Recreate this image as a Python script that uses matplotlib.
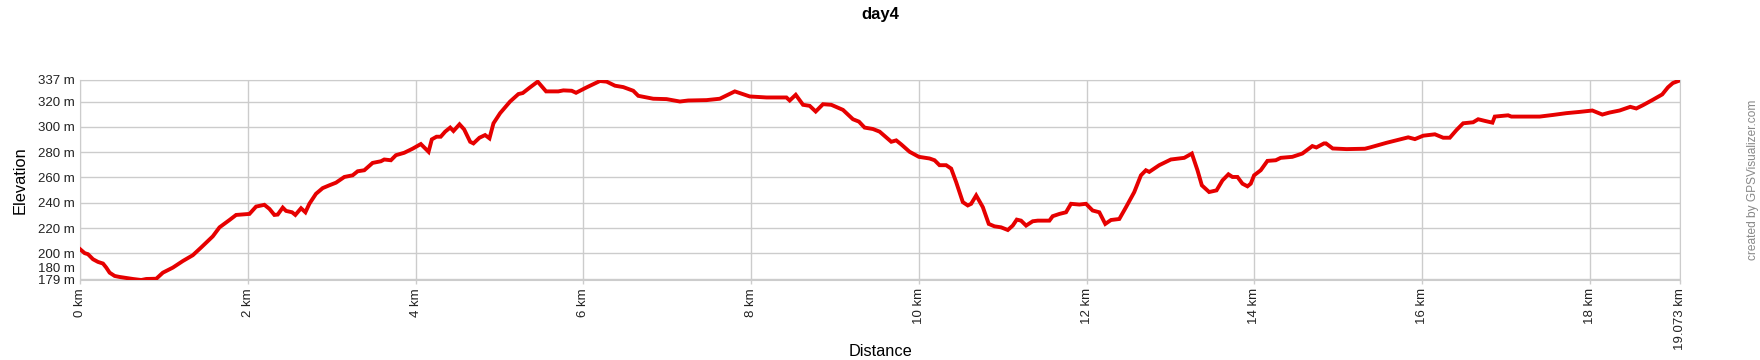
import numpy as np
import matplotlib
matplotlib.use("Agg")
import matplotlib.pyplot as plt

plt.rcParams['font.family'] = ['Liberation Sans', 'DejaVu Sans']

# distance (km) and elevation (m)
dist = [0.0, 0.056, 0.095, 0.155, 0.214, 0.274, 0.313, 0.353, 0.413, 0.472, 0.552, 0.631, 0.73, 0.79,
        0.909, 0.988, 1.107, 1.226, 1.345, 1.444, 1.583, 1.663, 1.782, 1.861, 2.02, 2.099, 2.198,
        2.258, 2.317, 2.357, 2.417, 2.456, 2.528, 2.567, 2.635, 2.687, 2.734, 2.813, 2.893, 2.972,
        3.052, 3.151, 3.25, 3.31, 3.389, 3.488, 3.587, 3.627, 3.706, 3.766, 3.865, 3.964, 4.063,
        4.115, 4.155, 4.194, 4.25, 4.3, 4.353, 4.413, 4.452, 4.524, 4.579, 4.651, 4.69, 4.762,
        4.829, 4.881, 4.929, 5.008, 5.127, 5.226, 5.278, 5.365, 5.456, 5.556, 5.702, 5.762, 5.861,
        5.913, 6.04, 6.198, 6.278, 6.377, 6.476, 6.595, 6.655, 6.833, 6.992, 7.151, 7.25, 7.468,
        7.627, 7.806, 7.984, 8.183, 8.421, 8.46, 8.532, 8.619, 8.698, 8.77, 8.857, 8.956, 9.095,
        9.214, 9.286, 9.353, 9.452, 9.532, 9.611, 9.671, 9.73, 9.79, 9.889, 10.0, 10.127, 10.187,
        10.246, 10.325, 10.385, 10.444, 10.524, 10.583, 10.623, 10.683, 10.762, 10.833, 10.901,
        10.98, 11.06, 11.119, 11.167, 11.218, 11.278, 11.357, 11.417, 11.556, 11.595, 11.675,
        11.754, 11.813, 11.913, 11.992, 12.071, 12.151, 12.222, 12.29, 12.389, 12.468, 12.567,
        12.647, 12.706, 12.746, 12.865, 13.004, 13.163, 13.254, 13.321, 13.373, 13.46, 13.548,
        13.619, 13.69, 13.738, 13.798, 13.857, 13.917, 13.956, 13.996, 14.075, 14.155, 14.254,
        14.313, 14.452, 14.571, 14.69, 14.738, 14.829, 14.853, 14.933, 15.099, 15.317, 15.377,
        15.575, 15.734, 15.833, 15.913, 16.012, 16.151, 16.25, 16.329, 16.409, 16.488, 16.607,
        16.667, 16.746, 16.837, 16.865, 17.024, 17.063, 17.401, 17.56, 17.718, 17.877, 18.028,
        18.147, 18.234, 18.353, 18.48, 18.552, 18.631, 18.75, 18.861, 18.929, 18.988, 19.073]
elev = [203.4, 200.2, 199.4, 195.4, 193.3, 192.0, 188.8, 184.8, 182.2, 181.4, 180.6, 179.8, 179.0, 179.8,
        180.0, 184.8, 188.8, 194.0, 198.6, 204.7, 213.5, 220.6, 226.4, 230.4, 231.2, 237.0, 238.4,
        235.2, 230.4, 230.7, 236.2, 233.6, 232.5, 230.4, 235.7, 232.5, 239.2, 247.1, 251.6, 253.8,
        255.9, 260.4, 261.7, 264.9, 265.7, 271.5, 272.8, 274.2, 273.6, 277.6, 279.5, 282.7, 286.4,
        282.9, 280.3, 290.1, 292.2, 292.2, 296.2, 299.4, 296.7, 302.0, 298.0, 288.2, 286.9, 291.4,
        293.5, 290.9, 302.8, 310.8, 320.0, 325.9, 326.7, 331.2, 335.7, 328.0, 328.0, 328.8, 328.5,
        326.9, 331.2, 336.2, 335.7, 332.5, 331.4, 328.5, 324.5, 322.2, 321.9, 320.0, 320.8, 321.1,
        322.2, 328.0, 324.0, 323.2, 323.2, 320.8, 325.3, 317.4, 316.6, 312.1, 317.9, 317.4, 313.4,
        306.0, 304.1, 299.4, 298.3, 296.2, 291.7, 288.2, 289.3, 286.1, 280.3, 276.3, 275.0, 273.6,
        269.7, 269.7, 267.0, 256.4, 240.5, 237.9, 239.2, 245.8, 236.6, 223.3, 221.4,
        220.6, 218.5, 222.0, 226.7, 225.9, 222.0, 225.4, 225.9, 225.9, 229.4, 231.2,
        232.5, 239.2, 238.6, 239.2, 233.9, 232.5, 223.3, 226.4, 227.2, 236.4, 248.4,
        261.7, 265.7, 264.4, 269.7, 274.2, 275.5, 278.9, 265.7, 253.8, 248.5, 249.8,
        257.7, 262.5, 260.4, 260.4, 255.1, 253.0, 255.1, 261.7, 265.7, 273.1, 273.6,
        275.5, 276.3, 278.9, 284.8, 283.7, 286.9, 286.9, 282.9, 282.4, 282.7, 283.7,
        287.4, 290.1, 291.7, 290.3, 293.0, 294.1, 291.4, 291.4, 297.5, 302.8, 303.6,
        306.0, 304.7, 303.3, 308.1, 309.1, 308.1, 308.1, 309.4, 310.8, 311.8, 312.9,
        309.7, 311.3, 312.9, 315.8, 314.5, 317.1, 321.4, 325.6, 331.2, 334.6, 336.7]

y_ticks = [179, 180, 200, 220, 240, 260, 280, 300, 320, 337]
x_ticks = [0, 2, 4, 6, 8, 10, 12, 14, 16, 18, 19.073]
x_labels = ['0 km', '2 km', '4 km', '6 km', '8 km', '10 km', '12 km', '14 km', '16 km', '18 km', '19.073 km']

fig = plt.figure(figsize=(17.6, 3.6), dpi=100)
ax = fig.add_axes([80 / 1760, 80 / 360, 1600 / 1760, 200 / 360])

ax.plot(dist, elev, color='#e60000', linewidth=2.8, solid_joinstyle='miter', zorder=3)

ax.set_xlim(0, 19.073)
ax.set_ylim(179, 337)
ax.set_yticks(y_ticks)
# the 180 label is nudged upward so it does not sit right on top of 179
ax.set_yticklabels([f'{v} m' if v != 180 else '' for v in y_ticks], fontsize=9.5)
ax.annotate('180 m', xy=(0, 180), xycoords=('axes fraction', 'data'), xytext=(-4, 7),
            textcoords='offset points', ha='right', va='center', fontsize=9.5, color='#222222')
ax.set_xticks(x_ticks)
ax.set_xticklabels(x_labels, rotation=90, fontsize=9.5)
ax.grid(True, color='#cccccc', linewidth=1)
ax.set_axisbelow(True)
for s in ax.spines.values():
    s.set_color('#cccccc')
ax.tick_params(axis='both', colors='#cccccc', labelcolor='#222222', length=3, width=1, pad=3)
ax.tick_params(axis='y', length=0, pad=4)

ax.set_ylabel('Elevation', fontsize=11.8, labelpad=7)
fig.text(880 / 1760, 1 - 351 / 360, 'Distance', ha='center', va='center', fontsize=11.8)
fig.text(880 / 1760, 1 - 14 / 360, 'day4', ha='center', va='center', fontsize=12, fontweight='bold')
fig.text(1753 / 1760, 0.5, 'created by GPSVisualizer.com', rotation=90, ha='center', va='center',
         fontsize=8.6, color='#888888')

fig.savefig('out.png', dpi=100)
